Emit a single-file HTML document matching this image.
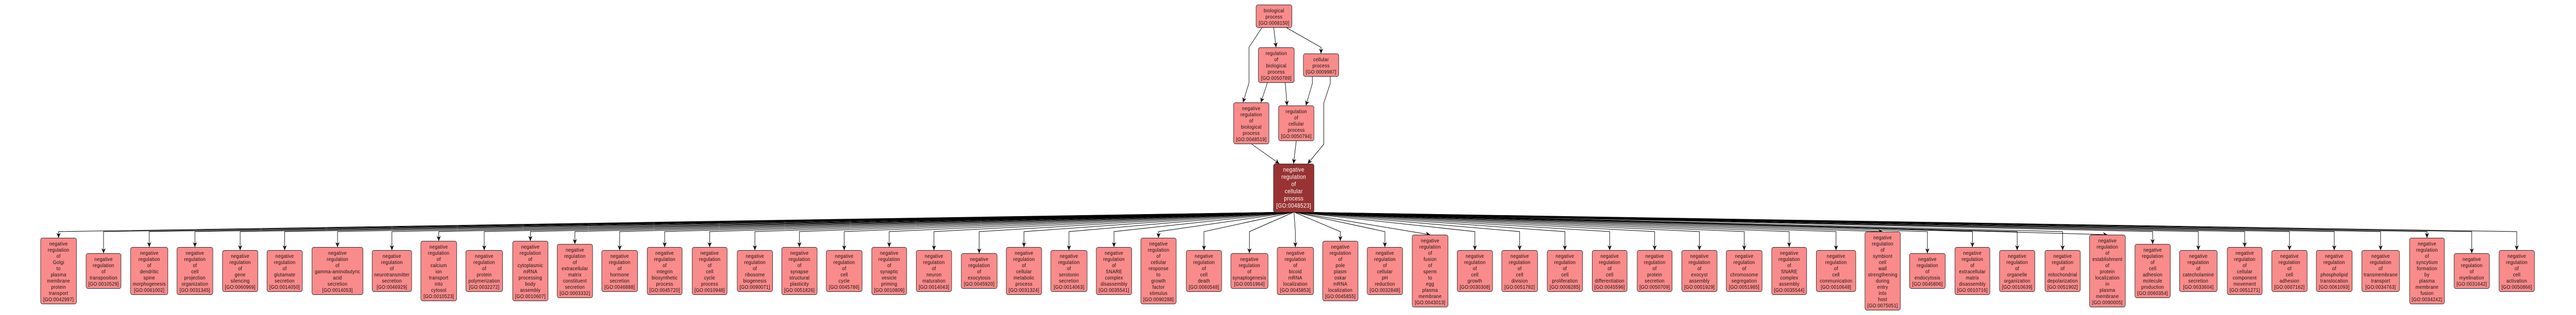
<!DOCTYPE html>
<html><head><meta charset="utf-8"><style>
html,body{margin:0;padding:0;width:100%;height:100%;overflow:hidden;background:#fff;}
svg.main{position:absolute;left:0;top:0;width:100%;height:100%;display:block;}
.nd rect{fill:#fa8b8b;stroke:#2a2a2a;stroke-width:1;}
.nd text{font-family:"Liberation Sans",Arial,sans-serif;font-size:10px;letter-spacing:0.3px;text-anchor:middle;fill:#111;}
.dk rect{fill:#993333;stroke:#2a2a2a;stroke-width:1;}
.dk text{font-family:"Liberation Sans",Arial,sans-serif;font-size:11.5px;letter-spacing:0.35px;text-anchor:middle;fill:#fff;}
</style></head><body>
<svg class="main" xmlns="http://www.w3.org/2000/svg" viewBox="0 0 5610 612" preserveAspectRatio="none">
<defs><marker id="a" viewBox="0 0 10 10" refX="9.5" refY="5" markerWidth="10" markerHeight="10" markerUnits="userSpaceOnUse" orient="auto"><path d="M0,0.5 L9.5,5 L0,9.5 L3,5 z" fill="#000"/></marker></defs>
<rect x="0" y="0" width="5610" height="612" fill="#fff"/>
<g fill="none" stroke="#000" stroke-width="1" marker-end="url(#a)">
<polyline points="2748,54 2720,92 2720,161 2707,199"/>
<polyline points="2774,54 2779,92"/>
<polyline points="2802,54 2877,92 2877,104"/>
<polyline points="2760,161 2746,199"/>
<polyline points="2799,161 2803,205"/>
<polyline points="2858,149 2858,162 2844,205"/>
<polyline points="2897,149 2897,162 2883,200 2883,280 2848,318"/>
<polyline points="2726,280 2786,318"/>
<polyline points="2823,274 2817,318"/>
<polyline points="2818,412 127.5,450 127.5,462"/>
<polyline points="2818,412 225.5,450 225.5,492"/>
<polyline points="2818,412 325,450 325,480"/>
<polyline points="2818,412 424.5,450 424.5,480"/>
<polyline points="2818,412 523,450 523,486"/>
<polyline points="2818,412 620,450 620,486"/>
<polyline points="2818,412 735,450 735,480"/>
<polyline points="2818,412 853.5,450 853.5,486"/>
<polyline points="2818,412 955.5,450 955.5,468"/>
<polyline points="2818,412 1054.5,450 1054.5,486"/>
<polyline points="2818,412 1155,450 1155,468"/>
<polyline points="2818,412 1252,450 1252,474"/>
<polyline points="2818,412 1349.5,450 1349.5,486"/>
<polyline points="2818,412 1447.5,450 1447.5,480"/>
<polyline points="2818,412 1545.5,450 1545.5,480"/>
<polyline points="2818,412 1644,450 1644,486"/>
<polyline points="2818,412 1741,450 1741,480"/>
<polyline points="2818,412 1838.5,450 1838.5,486"/>
<polyline points="2818,412 1936.5,450 1936.5,480"/>
<polyline points="2818,412 2034,450 2034,486"/>
<polyline points="2818,412 2132.5,450 2132.5,492"/>
<polyline points="2818,412 2230,450 2230,480"/>
<polyline points="2818,412 2328,450 2328,486"/>
<polyline points="2818,412 2426,450 2426,480"/>
<polyline points="2818,412 2523,450 2523,462"/>
<polyline points="2818,412 2622,450 2622,486"/>
<polyline points="2818,412 2721,450 2721,492"/>
<polyline points="2818,412 2821,450 2821,480"/>
<polyline points="2818,412 2919,450 2919,468"/>
<polyline points="2818,412 3016,450 3016,480"/>
<polyline points="2818,412 3114.5,456"/>
<polyline points="2818,412 3212,450 3212,486"/>
<polyline points="2818,412 3309.5,450 3309.5,486"/>
<polyline points="2818,412 3408,450 3408,486"/>
<polyline points="2818,412 3505.5,450 3505.5,486"/>
<polyline points="2818,412 3603.5,450 3603.5,486"/>
<polyline points="2818,412 3701,450 3701,486"/>
<polyline points="2818,412 3798.5,450 3798.5,486"/>
<polyline points="2818,412 3896.5,450 3896.5,480"/>
<polyline points="2818,412 3998.5,450 3998.5,486"/>
<polyline points="2818,412 4100,450"/>
<polyline points="2818,412 4197.5,450 4197.5,492"/>
<polyline points="2818,412 4295.5,450 4295.5,480"/>
<polyline points="2818,412 4393,450 4393,486"/>
<polyline points="2818,412 4492,450 4492,486"/>
<polyline points="2818,412 4589.5,456"/>
<polyline points="2818,412 4688,450 4688,474"/>
<polyline points="2818,412 4787.5,450 4787.5,486"/>
<polyline points="2818,412 4888.5,450 4888.5,480"/>
<polyline points="2818,412 4986,450 4986,486"/>
<polyline points="2818,412 5083.5,450 5083.5,486"/>
<polyline points="2818,412 5184.5,450 5184.5,486"/>
<polyline points="2818,412 5285.5,450 5285.5,462"/>
<polyline points="2818,412 5383,450 5383,492"/>
<polyline points="2818,412 5481,450 5481,486"/>
</g>

<g class="nd">
<rect x="2735.5" y="9.5" width="78" height="44" rx="4"/>
<text x="2774.5" y="24">biological<tspan x="2774.5" dy="12">process</tspan><tspan x="2774.5" dy="12">[GO:0008150]</tspan></text>
<rect x="2740.5" y="92.5" width="78" height="68" rx="4"/>
<text x="2779.5" y="107">regulation<tspan x="2779.5" dy="12">of</tspan><tspan x="2779.5" dy="12">biological</tspan><tspan x="2779.5" dy="12">process</tspan><tspan x="2779.5" dy="12">[GO:0050789]</tspan></text>
<rect x="2838.5" y="104.5" width="77" height="44" rx="4"/>
<text x="2877" y="119">cellular<tspan x="2877" dy="12">process</tspan><tspan x="2877" dy="12">[GO:0009987]</tspan></text>
<rect x="2686.5" y="199.5" width="77" height="80" rx="4"/>
<text x="2725" y="214">negative<tspan x="2725" dy="12">regulation</tspan><tspan x="2725" dy="12">of</tspan><tspan x="2725" dy="12">biological</tspan><tspan x="2725" dy="12">process</tspan><tspan x="2725" dy="12">[GO:0048519]</tspan></text>
<rect x="2784.5" y="205.5" width="77" height="68" rx="4"/>
<text x="2823" y="220">regulation<tspan x="2823" dy="12">of</tspan><tspan x="2823" dy="12">cellular</tspan><tspan x="2823" dy="12">process</tspan><tspan x="2823" dy="12">[GO:0050794]</tspan></text>
</g>
<g class="dk">
<rect x="2773.5" y="318.5" width="88" height="94" rx="4"/>
<text x="2817.5" y="333.5">negative<tspan x="2817.5" dy="14">regulation</tspan><tspan x="2817.5" dy="14">of</tspan><tspan x="2817.5" dy="14">cellular</tspan><tspan x="2817.5" dy="14">process</tspan><tspan x="2817.5" dy="14">[GO:0048523]</tspan></text>
</g>

<g class="nd">
<rect x="88.5" y="462.5" width="78" height="128" rx="4"/>
<text x="127.5" y="477">negative<tspan x="127.5" dy="12">regulation</tspan><tspan x="127.5" dy="12">of</tspan><tspan x="127.5" dy="12">Golgi</tspan><tspan x="127.5" dy="12">to</tspan><tspan x="127.5" dy="12">plasma</tspan><tspan x="127.5" dy="12">membrane</tspan><tspan x="127.5" dy="12">protein</tspan><tspan x="127.5" dy="12">transport</tspan><tspan x="127.5" dy="12">[GO:0042997]</tspan></text>

<rect x="187.5" y="492.5" width="76" height="68" rx="4"/>
<text x="225.5" y="507">negative<tspan x="225.5" dy="12">regulation</tspan><tspan x="225.5" dy="12">of</tspan><tspan x="225.5" dy="12">transposition</tspan><tspan x="225.5" dy="12">[GO:0010529]</tspan></text>

<rect x="284.5" y="480.5" width="81" height="92" rx="4"/>
<text x="325" y="495">negative<tspan x="325" dy="12">regulation</tspan><tspan x="325" dy="12">of</tspan><tspan x="325" dy="12">dendritic</tspan><tspan x="325" dy="12">spine</tspan><tspan x="325" dy="12">morphogenesis</tspan><tspan x="325" dy="12">[GO:0061002]</tspan></text>

<rect x="385.5" y="480.5" width="78" height="92" rx="4"/>
<text x="424.5" y="495">negative<tspan x="424.5" dy="12">regulation</tspan><tspan x="424.5" dy="12">of</tspan><tspan x="424.5" dy="12">cell</tspan><tspan x="424.5" dy="12">projection</tspan><tspan x="424.5" dy="12">organization</tspan><tspan x="424.5" dy="12">[GO:0031345]</tspan></text>

<rect x="484.5" y="486.5" width="77" height="80" rx="4"/>
<text x="523" y="501">negative<tspan x="523" dy="12">regulation</tspan><tspan x="523" dy="12">of</tspan><tspan x="523" dy="12">gene</tspan><tspan x="523" dy="12">silencing</tspan><tspan x="523" dy="12">[GO:0060969]</tspan></text>

<rect x="581.5" y="486.5" width="77" height="80" rx="4"/>
<text x="620" y="501">negative<tspan x="620" dy="12">regulation</tspan><tspan x="620" dy="12">of</tspan><tspan x="620" dy="12">glutamate</tspan><tspan x="620" dy="12">secretion</tspan><tspan x="620" dy="12">[GO:0014050]</tspan></text>

<rect x="679.5" y="480.5" width="111" height="92" rx="4"/>
<text x="735" y="495">negative<tspan x="735" dy="12">regulation</tspan><tspan x="735" dy="12">of</tspan><tspan x="735" dy="12">gamma-aminobutyric</tspan><tspan x="735" dy="12">acid</tspan><tspan x="735" dy="12">secretion</tspan><tspan x="735" dy="12">[GO:0014053]</tspan></text>

<rect x="810.5" y="486.5" width="86" height="80" rx="4"/>
<text x="853.5" y="501">negative<tspan x="853.5" dy="12">regulation</tspan><tspan x="853.5" dy="12">of</tspan><tspan x="853.5" dy="12">neurotransmitter</tspan><tspan x="853.5" dy="12">secretion</tspan><tspan x="853.5" dy="12">[GO:0046929]</tspan></text>

<rect x="916.5" y="468.5" width="78" height="116" rx="4"/>
<text x="955.5" y="483">negative<tspan x="955.5" dy="12">regulation</tspan><tspan x="955.5" dy="12">of</tspan><tspan x="955.5" dy="12">calcium</tspan><tspan x="955.5" dy="12">ion</tspan><tspan x="955.5" dy="12">transport</tspan><tspan x="955.5" dy="12">into</tspan><tspan x="955.5" dy="12">cytosol</tspan><tspan x="955.5" dy="12">[GO:0010523]</tspan></text>

<rect x="1014.5" y="486.5" width="80" height="80" rx="4"/>
<text x="1054.5" y="501">negative<tspan x="1054.5" dy="12">regulation</tspan><tspan x="1054.5" dy="12">of</tspan><tspan x="1054.5" dy="12">protein</tspan><tspan x="1054.5" dy="12">polymerization</tspan><tspan x="1054.5" dy="12">[GO:0032272]</tspan></text>

<rect x="1116.5" y="468.5" width="77" height="116" rx="4"/>
<text x="1155" y="483">negative<tspan x="1155" dy="12">regulation</tspan><tspan x="1155" dy="12">of</tspan><tspan x="1155" dy="12">cytoplasmic</tspan><tspan x="1155" dy="12">mRNA</tspan><tspan x="1155" dy="12">processing</tspan><tspan x="1155" dy="12">body</tspan><tspan x="1155" dy="12">assembly</tspan><tspan x="1155" dy="12">[GO:0010607]</tspan></text>

<rect x="1213.5" y="474.5" width="77" height="104" rx="4"/>
<text x="1252" y="489">negative<tspan x="1252" dy="12">regulation</tspan><tspan x="1252" dy="12">of</tspan><tspan x="1252" dy="12">extracellular</tspan><tspan x="1252" dy="12">matrix</tspan><tspan x="1252" dy="12">constituent</tspan><tspan x="1252" dy="12">secretion</tspan><tspan x="1252" dy="12">[GO:0003332]</tspan></text>

<rect x="1310.5" y="486.5" width="78" height="80" rx="4"/>
<text x="1349.5" y="501">negative<tspan x="1349.5" dy="12">regulation</tspan><tspan x="1349.5" dy="12">of</tspan><tspan x="1349.5" dy="12">hormone</tspan><tspan x="1349.5" dy="12">secretion</tspan><tspan x="1349.5" dy="12">[GO:0046888]</tspan></text>

<rect x="1409.5" y="480.5" width="76" height="92" rx="4"/>
<text x="1447.5" y="495">negative<tspan x="1447.5" dy="12">regulation</tspan><tspan x="1447.5" dy="12">of</tspan><tspan x="1447.5" dy="12">integrin</tspan><tspan x="1447.5" dy="12">biosynthetic</tspan><tspan x="1447.5" dy="12">process</tspan><tspan x="1447.5" dy="12">[GO:0045720]</tspan></text>

<rect x="1507.5" y="480.5" width="76" height="92" rx="4"/>
<text x="1545.5" y="495">negative<tspan x="1545.5" dy="12">regulation</tspan><tspan x="1545.5" dy="12">of</tspan><tspan x="1545.5" dy="12">cell</tspan><tspan x="1545.5" dy="12">cycle</tspan><tspan x="1545.5" dy="12">process</tspan><tspan x="1545.5" dy="12">[GO:0010948]</tspan></text>

<rect x="1605.5" y="486.5" width="77" height="80" rx="4"/>
<text x="1644" y="501">negative<tspan x="1644" dy="12">regulation</tspan><tspan x="1644" dy="12">of</tspan><tspan x="1644" dy="12">ribosome</tspan><tspan x="1644" dy="12">biogenesis</tspan><tspan x="1644" dy="12">[GO:0090071]</tspan></text>

<rect x="1702.5" y="480.5" width="77" height="92" rx="4"/>
<text x="1741" y="495">negative<tspan x="1741" dy="12">regulation</tspan><tspan x="1741" dy="12">of</tspan><tspan x="1741" dy="12">synapse</tspan><tspan x="1741" dy="12">structural</tspan><tspan x="1741" dy="12">plasticity</tspan><tspan x="1741" dy="12">[GO:0051826]</tspan></text>

<rect x="1799.5" y="486.5" width="78" height="80" rx="4"/>
<text x="1838.5" y="501">negative<tspan x="1838.5" dy="12">regulation</tspan><tspan x="1838.5" dy="12">of</tspan><tspan x="1838.5" dy="12">cell</tspan><tspan x="1838.5" dy="12">cycle</tspan><tspan x="1838.5" dy="12">[GO:0045786]</tspan></text>

<rect x="1898.5" y="480.5" width="76" height="92" rx="4"/>
<text x="1936.5" y="495">negative<tspan x="1936.5" dy="12">regulation</tspan><tspan x="1936.5" dy="12">of</tspan><tspan x="1936.5" dy="12">synaptic</tspan><tspan x="1936.5" dy="12">vesicle</tspan><tspan x="1936.5" dy="12">priming</tspan><tspan x="1936.5" dy="12">[GO:0010809]</tspan></text>

<rect x="1995.5" y="486.5" width="77" height="80" rx="4"/>
<text x="2034" y="501">negative<tspan x="2034" dy="12">regulation</tspan><tspan x="2034" dy="12">of</tspan><tspan x="2034" dy="12">neuron</tspan><tspan x="2034" dy="12">maturation</tspan><tspan x="2034" dy="12">[GO:0014043]</tspan></text>

<rect x="2093.5" y="492.5" width="78" height="68" rx="4"/>
<text x="2132.5" y="507">negative<tspan x="2132.5" dy="12">regulation</tspan><tspan x="2132.5" dy="12">of</tspan><tspan x="2132.5" dy="12">exocytosis</tspan><tspan x="2132.5" dy="12">[GO:0045920]</tspan></text>

<rect x="2191.5" y="480.5" width="77" height="92" rx="4"/>
<text x="2230" y="495">negative<tspan x="2230" dy="12">regulation</tspan><tspan x="2230" dy="12">of</tspan><tspan x="2230" dy="12">cellular</tspan><tspan x="2230" dy="12">metabolic</tspan><tspan x="2230" dy="12">process</tspan><tspan x="2230" dy="12">[GO:0031324]</tspan></text>

<rect x="2288.5" y="486.5" width="79" height="80" rx="4"/>
<text x="2328" y="501">negative<tspan x="2328" dy="12">regulation</tspan><tspan x="2328" dy="12">of</tspan><tspan x="2328" dy="12">serotonin</tspan><tspan x="2328" dy="12">secretion</tspan><tspan x="2328" dy="12">[GO:0014063]</tspan></text>

<rect x="2387.5" y="480.5" width="77" height="92" rx="4"/>
<text x="2426" y="495">negative<tspan x="2426" dy="12">regulation</tspan><tspan x="2426" dy="12">of</tspan><tspan x="2426" dy="12">SNARE</tspan><tspan x="2426" dy="12">complex</tspan><tspan x="2426" dy="12">disassembly</tspan><tspan x="2426" dy="12">[GO:0035541]</tspan></text>

<rect x="2484.5" y="462.5" width="77" height="128" rx="4"/>
<text x="2523" y="477">negative<tspan x="2523" dy="12">regulation</tspan><tspan x="2523" dy="12">of</tspan><tspan x="2523" dy="12">cellular</tspan><tspan x="2523" dy="12">response</tspan><tspan x="2523" dy="12">to</tspan><tspan x="2523" dy="12">growth</tspan><tspan x="2523" dy="12">factor</tspan><tspan x="2523" dy="12">stimulus</tspan><tspan x="2523" dy="12">[GO:0090288]</tspan></text>

<rect x="2583.5" y="486.5" width="77" height="80" rx="4"/>
<text x="2622" y="501">negative<tspan x="2622" dy="12">regulation</tspan><tspan x="2622" dy="12">of</tspan><tspan x="2622" dy="12">cell</tspan><tspan x="2622" dy="12">death</tspan><tspan x="2622" dy="12">[GO:0060548]</tspan></text>

<rect x="2680.5" y="492.5" width="81" height="68" rx="4"/>
<text x="2721" y="507">negative<tspan x="2721" dy="12">regulation</tspan><tspan x="2721" dy="12">of</tspan><tspan x="2721" dy="12">synaptogenesis</tspan><tspan x="2721" dy="12">[GO:0051964]</tspan></text>

<rect x="2781.5" y="480.5" width="79" height="92" rx="4"/>
<text x="2821" y="495">negative<tspan x="2821" dy="12">regulation</tspan><tspan x="2821" dy="12">of</tspan><tspan x="2821" dy="12">bicoid</tspan><tspan x="2821" dy="12">mRNA</tspan><tspan x="2821" dy="12">localization</tspan><tspan x="2821" dy="12">[GO:0045853]</tspan></text>

<rect x="2880.5" y="468.5" width="77" height="116" rx="4"/>
<text x="2919" y="483">negative<tspan x="2919" dy="12">regulation</tspan><tspan x="2919" dy="12">of</tspan><tspan x="2919" dy="12">pole</tspan><tspan x="2919" dy="12">plasm</tspan><tspan x="2919" dy="12">oskar</tspan><tspan x="2919" dy="12">mRNA</tspan><tspan x="2919" dy="12">localization</tspan><tspan x="2919" dy="12">[GO:0045855]</tspan></text>

<rect x="2977.5" y="480.5" width="77" height="92" rx="4"/>
<text x="3016" y="495">negative<tspan x="3016" dy="12">regulation</tspan><tspan x="3016" dy="12">of</tspan><tspan x="3016" dy="12">cellular</tspan><tspan x="3016" dy="12">pH</tspan><tspan x="3016" dy="12">reduction</tspan><tspan x="3016" dy="12">[GO:0032848]</tspan></text>

<rect x="3075.5" y="456.5" width="78" height="140" rx="4"/>
<text x="3114.5" y="471">negative<tspan x="3114.5" dy="12">regulation</tspan><tspan x="3114.5" dy="12">of</tspan><tspan x="3114.5" dy="12">fusion</tspan><tspan x="3114.5" dy="12">of</tspan><tspan x="3114.5" dy="12">sperm</tspan><tspan x="3114.5" dy="12">to</tspan><tspan x="3114.5" dy="12">egg</tspan><tspan x="3114.5" dy="12">plasma</tspan><tspan x="3114.5" dy="12">membrane</tspan><tspan x="3114.5" dy="12">[GO:0043013]</tspan></text>

<rect x="3173.5" y="486.5" width="77" height="80" rx="4"/>
<text x="3212" y="501">negative<tspan x="3212" dy="12">regulation</tspan><tspan x="3212" dy="12">of</tspan><tspan x="3212" dy="12">cell</tspan><tspan x="3212" dy="12">growth</tspan><tspan x="3212" dy="12">[GO:0030308]</tspan></text>

<rect x="3270.5" y="486.5" width="78" height="80" rx="4"/>
<text x="3309.5" y="501">negative<tspan x="3309.5" dy="12">regulation</tspan><tspan x="3309.5" dy="12">of</tspan><tspan x="3309.5" dy="12">cell</tspan><tspan x="3309.5" dy="12">division</tspan><tspan x="3309.5" dy="12">[GO:0051782]</tspan></text>

<rect x="3369.5" y="486.5" width="77" height="80" rx="4"/>
<text x="3408" y="501">negative<tspan x="3408" dy="12">regulation</tspan><tspan x="3408" dy="12">of</tspan><tspan x="3408" dy="12">cell</tspan><tspan x="3408" dy="12">proliferation</tspan><tspan x="3408" dy="12">[GO:0008285]</tspan></text>

<rect x="3467.5" y="486.5" width="76" height="80" rx="4"/>
<text x="3505.5" y="501">negative<tspan x="3505.5" dy="12">regulation</tspan><tspan x="3505.5" dy="12">of</tspan><tspan x="3505.5" dy="12">cell</tspan><tspan x="3505.5" dy="12">differentiation</tspan><tspan x="3505.5" dy="12">[GO:0045596]</tspan></text>

<rect x="3565.5" y="486.5" width="76" height="80" rx="4"/>
<text x="3603.5" y="501">negative<tspan x="3603.5" dy="12">regulation</tspan><tspan x="3603.5" dy="12">of</tspan><tspan x="3603.5" dy="12">protein</tspan><tspan x="3603.5" dy="12">secretion</tspan><tspan x="3603.5" dy="12">[GO:0050709]</tspan></text>

<rect x="3662.5" y="486.5" width="77" height="80" rx="4"/>
<text x="3701" y="501">negative<tspan x="3701" dy="12">regulation</tspan><tspan x="3701" dy="12">of</tspan><tspan x="3701" dy="12">exocyst</tspan><tspan x="3701" dy="12">assembly</tspan><tspan x="3701" dy="12">[GO:0001929]</tspan></text>

<rect x="3759.5" y="486.5" width="78" height="80" rx="4"/>
<text x="3798.5" y="501">negative<tspan x="3798.5" dy="12">regulation</tspan><tspan x="3798.5" dy="12">of</tspan><tspan x="3798.5" dy="12">chromosome</tspan><tspan x="3798.5" dy="12">segregation</tspan><tspan x="3798.5" dy="12">[GO:0051985]</tspan></text>

<rect x="3858.5" y="480.5" width="76" height="92" rx="4"/>
<text x="3896.5" y="495">negative<tspan x="3896.5" dy="12">regulation</tspan><tspan x="3896.5" dy="12">of</tspan><tspan x="3896.5" dy="12">SNARE</tspan><tspan x="3896.5" dy="12">complex</tspan><tspan x="3896.5" dy="12">assembly</tspan><tspan x="3896.5" dy="12">[GO:0035544]</tspan></text>

<rect x="3955.5" y="486.5" width="86" height="80" rx="4"/>
<text x="3998.5" y="501">negative<tspan x="3998.5" dy="12">regulation</tspan><tspan x="3998.5" dy="12">of</tspan><tspan x="3998.5" dy="12">cell</tspan><tspan x="3998.5" dy="12">communication</tspan><tspan x="3998.5" dy="12">[GO:0010648]</tspan></text>

<rect x="4061.5" y="450.5" width="77" height="152" rx="4"/>
<text x="4100" y="465">negative<tspan x="4100" dy="12">regulation</tspan><tspan x="4100" dy="12">of</tspan><tspan x="4100" dy="12">symbiont</tspan><tspan x="4100" dy="12">cell</tspan><tspan x="4100" dy="12">wall</tspan><tspan x="4100" dy="12">strengthening</tspan><tspan x="4100" dy="12">during</tspan><tspan x="4100" dy="12">entry</tspan><tspan x="4100" dy="12">into</tspan><tspan x="4100" dy="12">host</tspan><tspan x="4100" dy="12">[GO:0075051]</tspan></text>

<rect x="4158.5" y="492.5" width="78" height="68" rx="4"/>
<text x="4197.5" y="507">negative<tspan x="4197.5" dy="12">regulation</tspan><tspan x="4197.5" dy="12">of</tspan><tspan x="4197.5" dy="12">endocytosis</tspan><tspan x="4197.5" dy="12">[GO:0045806]</tspan></text>

<rect x="4257.5" y="480.5" width="76" height="92" rx="4"/>
<text x="4295.5" y="495">negative<tspan x="4295.5" dy="12">regulation</tspan><tspan x="4295.5" dy="12">of</tspan><tspan x="4295.5" dy="12">extracellular</tspan><tspan x="4295.5" dy="12">matrix</tspan><tspan x="4295.5" dy="12">disassembly</tspan><tspan x="4295.5" dy="12">[GO:0010716]</tspan></text>

<rect x="4354.5" y="486.5" width="77" height="80" rx="4"/>
<text x="4393" y="501">negative<tspan x="4393" dy="12">regulation</tspan><tspan x="4393" dy="12">of</tspan><tspan x="4393" dy="12">organelle</tspan><tspan x="4393" dy="12">organization</tspan><tspan x="4393" dy="12">[GO:0010639]</tspan></text>

<rect x="4453.5" y="486.5" width="77" height="80" rx="4"/>
<text x="4492" y="501">negative<tspan x="4492" dy="12">regulation</tspan><tspan x="4492" dy="12">of</tspan><tspan x="4492" dy="12">mitochondrial</tspan><tspan x="4492" dy="12">depolarization</tspan><tspan x="4492" dy="12">[GO:0051902]</tspan></text>

<rect x="4550.5" y="456.5" width="78" height="140" rx="4"/>
<text x="4589.5" y="471">negative<tspan x="4589.5" dy="12">regulation</tspan><tspan x="4589.5" dy="12">of</tspan><tspan x="4589.5" dy="12">establishment</tspan><tspan x="4589.5" dy="12">of</tspan><tspan x="4589.5" dy="12">protein</tspan><tspan x="4589.5" dy="12">localization</tspan><tspan x="4589.5" dy="12">in</tspan><tspan x="4589.5" dy="12">plasma</tspan><tspan x="4589.5" dy="12">membrane</tspan><tspan x="4589.5" dy="12">[GO:0090005]</tspan></text>

<rect x="4649.5" y="474.5" width="77" height="104" rx="4"/>
<text x="4688" y="489">negative<tspan x="4688" dy="12">regulation</tspan><tspan x="4688" dy="12">of</tspan><tspan x="4688" dy="12">cell</tspan><tspan x="4688" dy="12">adhesion</tspan><tspan x="4688" dy="12">molecule</tspan><tspan x="4688" dy="12">production</tspan><tspan x="4688" dy="12">[GO:0060354]</tspan></text>

<rect x="4746.5" y="486.5" width="82" height="80" rx="4"/>
<text x="4787.5" y="501">negative<tspan x="4787.5" dy="12">regulation</tspan><tspan x="4787.5" dy="12">of</tspan><tspan x="4787.5" dy="12">catecholamine</tspan><tspan x="4787.5" dy="12">secretion</tspan><tspan x="4787.5" dy="12">[GO:0033604]</tspan></text>

<rect x="4850.5" y="480.5" width="76" height="92" rx="4"/>
<text x="4888.5" y="495">negative<tspan x="4888.5" dy="12">regulation</tspan><tspan x="4888.5" dy="12">of</tspan><tspan x="4888.5" dy="12">cellular</tspan><tspan x="4888.5" dy="12">component</tspan><tspan x="4888.5" dy="12">movement</tspan><tspan x="4888.5" dy="12">[GO:0051271]</tspan></text>

<rect x="4947.5" y="486.5" width="77" height="80" rx="4"/>
<text x="4986" y="501">negative<tspan x="4986" dy="12">regulation</tspan><tspan x="4986" dy="12">of</tspan><tspan x="4986" dy="12">cell</tspan><tspan x="4986" dy="12">adhesion</tspan><tspan x="4986" dy="12">[GO:0007162]</tspan></text>

<rect x="5044.5" y="486.5" width="78" height="80" rx="4"/>
<text x="5083.5" y="501">negative<tspan x="5083.5" dy="12">regulation</tspan><tspan x="5083.5" dy="12">of</tspan><tspan x="5083.5" dy="12">phospholipid</tspan><tspan x="5083.5" dy="12">translocation</tspan><tspan x="5083.5" dy="12">[GO:0061093]</tspan></text>

<rect x="5143.5" y="486.5" width="82" height="80" rx="4"/>
<text x="5184.5" y="501">negative<tspan x="5184.5" dy="12">regulation</tspan><tspan x="5184.5" dy="12">of</tspan><tspan x="5184.5" dy="12">transmembrane</tspan><tspan x="5184.5" dy="12">transport</tspan><tspan x="5184.5" dy="12">[GO:0034763]</tspan></text>

<rect x="5247.5" y="462.5" width="76" height="128" rx="4"/>
<text x="5285.5" y="477">negative<tspan x="5285.5" dy="12">regulation</tspan><tspan x="5285.5" dy="12">of</tspan><tspan x="5285.5" dy="12">syncytium</tspan><tspan x="5285.5" dy="12">formation</tspan><tspan x="5285.5" dy="12">by</tspan><tspan x="5285.5" dy="12">plasma</tspan><tspan x="5285.5" dy="12">membrane</tspan><tspan x="5285.5" dy="12">fusion</tspan><tspan x="5285.5" dy="12">[GO:0034242]</tspan></text>

<rect x="5344.5" y="492.5" width="77" height="68" rx="4"/>
<text x="5383" y="507">negative<tspan x="5383" dy="12">regulation</tspan><tspan x="5383" dy="12">of</tspan><tspan x="5383" dy="12">myelination</tspan><tspan x="5383" dy="12">[GO:0031642]</tspan></text>

<rect x="5442.5" y="486.5" width="77" height="80" rx="4"/>
<text x="5481" y="501">negative<tspan x="5481" dy="12">regulation</tspan><tspan x="5481" dy="12">of</tspan><tspan x="5481" dy="12">cell</tspan><tspan x="5481" dy="12">activation</tspan><tspan x="5481" dy="12">[GO:0050866]</tspan></text>
</g>
</svg>
</body></html>
